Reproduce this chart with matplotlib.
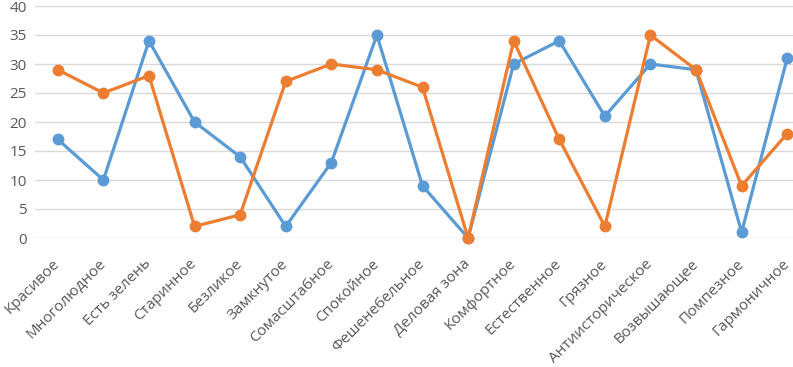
import matplotlib
matplotlib.use("Agg")
import matplotlib.pyplot as plt
from matplotlib.transforms import ScaledTranslation

categories = ["Красивое", "Многолюдное", "Есть зелень", "Старинное", "Безликое",
              "Замкнутое", "Сомасштабное", "Спокойное", "Фешенебельное", "Деловая зона",
              "Комфортное", "Естественное", "Грязное", "Антиисторическое", "Возвышающее",
              "Помпезное", "Гармоничное"]
series_blue = [17, 10, 34, 20, 14, 2, 13, 35, 9, 0, 30, 34, 21, 30, 29, 1, 31]
series_orange = [29, 25, 28, 2, 4, 27, 30, 29, 26, 0, 34, 17, 2, 35, 29, 9, 18]
yticks = [0, 5, 10, 15, 20, 25, 30, 35, 40]

plt.rcParams['font.family'] = ['Open Sans', 'DejaVu Sans']

W, H = 793, 367
fig = plt.figure(figsize=(W/100, H/100), dpi=100)
left = 35 / W
right = 810 / W
top = 1 - 6 / H
bottom = 1 - 238 / H
ax = fig.add_axes([left, bottom, right - left, top - bottom])

x = list(range(len(categories)))
ax.plot(x, series_blue, color="#5B9BD5", lw=2.3, marker="o", ms=7.5, zorder=3, clip_on=False)
ax.plot(x, series_orange, color="#ED7D31", lw=2.3, marker="o", ms=7.5, zorder=4, clip_on=False)

ax.set_xlim(-0.5, len(categories) - 0.5)
ax.set_ylim(0, 40)
ax.set_yticks(yticks)
ax.set_xticks(x)
ax.set_xticklabels(categories, rotation=45, ha="right", va="center", rotation_mode="anchor",
                   fontsize=11, color="#595959")
offset = ScaledTranslation(2/100, 0, fig.dpi_scale_trans)
for lbl in ax.get_xticklabels():
    lbl.set_transform(lbl.get_transform() + offset)
ax.tick_params(axis="y", labelsize=11, labelcolor="#595959", length=0, pad=6)
ax.tick_params(axis="x", length=0, pad=17)
ax.grid(axis="y", color="#D9D9D9", lw=1)
ax.set_axisbelow(True)
for s in ax.spines.values():
    s.set_visible(False)

fig.savefig("out.png", dpi=100)
